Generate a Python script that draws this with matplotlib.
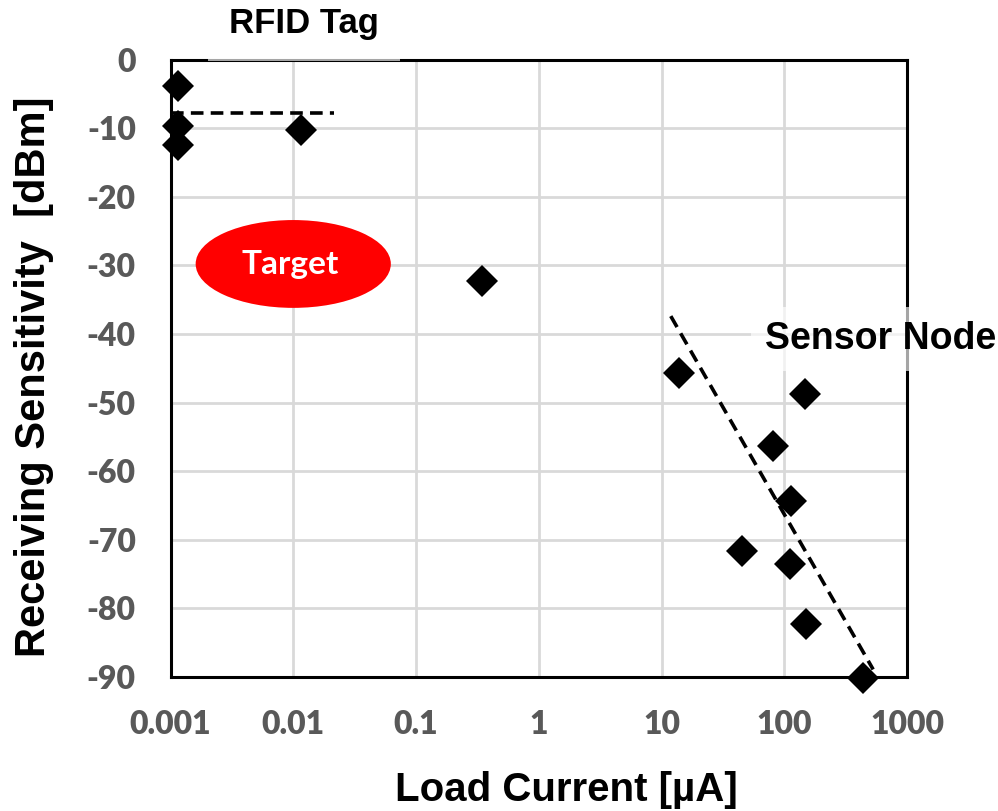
import numpy as np
import matplotlib
matplotlib.use("Agg")
import matplotlib.pyplot as plt
from matplotlib.patches import Ellipse

# measured sensitivity vs load current
rfid_current = [0.00116, 0.00116, 0.00116, 0.0116]
rfid_sens = [-3.8, -9.7, -12.4, -10.3]
mid_current = [0.344]
mid_sens = [-32.3]
node_current = [13.9, 147, 81, 113, 45.3, 111, 150, 434]
node_sens = [-45.7, -48.7, -56.4, -64.4, -71.7, -73.6, -82.3, -90.1]

# trend lines
rfid_fit_x = [0.001, 0.0216]
rfid_fit_y = [-7.8, -7.8]
node_fit_x = [11.9, 530]
node_fit_y = [-37.4, -88.9]

x_ticks = [0.001, 0.01, 0.1, 1, 10, 100, 1000]
x_tick_labels = ["0.001", "0.01", "0.1", "1", "10", "100", "1000"]
y_ticks = [0, -10, -20, -30, -40, -50, -60, -70, -80, -90]
y_tick_labels = ["0", "-10", "-20", "-30", "-40", "-50", "-60", "-70", "-80", "-90"]

# target region: centre (current, dBm), size (decades, dB)
target_center = (0.01, -29.8)
target_size = (1.59, 12.8)

W, H = 998, 811
fig = plt.figure(figsize=(W / 100, H / 100), dpi=100)
ax = fig.add_axes([170.5 / W, (H - 677) / H, 736.5 / W, 617.5 / H])

ax.set_xscale("log")
ax.set_xlim(0.001, 1000)
ax.set_ylim(-90, 0)
ax.set_xticks(x_ticks)
ax.set_xticklabels(x_tick_labels)
ax.minorticks_off()
ax.set_yticks(y_ticks)
ax.set_yticklabels(y_tick_labels)
ax.grid(True, color="#d9d9d9", lw=2)
ax.set_axisbelow(True)
ax.tick_params(length=0, labelsize=23, labelcolor="#595959")
ax.tick_params(axis="x", pad=24)
ax.tick_params(axis="y", pad=25)
for lbl in ax.get_xticklabels() + ax.get_yticklabels():
    lbl.set_fontfamily("Lato")
    lbl.set_fontweight("heavy")
for s in ax.spines.values():
    s.set_linewidth(2.2)
    s.set_color("black")

ax.plot(rfid_fit_x, rfid_fit_y, color="black", lw=2.6, ls=(0, (3.5, 2)),
        clip_on=False, zorder=3)
ax.plot(node_fit_x, node_fit_y, color="black", lw=2.6, ls=(0, (3.5, 2)),
        clip_on=False, zorder=3)
for xs, ys in [(rfid_current, rfid_sens), (mid_current, mid_sens),
               (node_current, node_sens)]:
    ax.plot(xs, ys, "D", ms=16.5, color="black", mew=0, clip_on=False, zorder=4)

# red target ellipse, placed in axes fractions from the data limits
lx0, lx1 = np.log10(ax.get_xlim())
y0, y1 = ax.get_ylim()
cx = (np.log10(target_center[0]) - lx0) / (lx1 - lx0)
cy = (target_center[1] - y0) / (y1 - y0)
ell = Ellipse((cx, cy), target_size[0] / (lx1 - lx0), target_size[1] / (y1 - y0),
              transform=ax.transAxes, facecolor="#ff0000", edgecolor="none",
              zorder=3)
ax.add_patch(ell)
ax.text(0.0095, -31.3, "Target", color="white", fontsize=24, fontweight="bold",
        family="Lato", ha="center", va="baseline", zorder=4)

fig.text(304 / W, 1 - 33.3 / H, "RFID Tag", fontsize=25, fontweight="bold",
         family="Liberation Sans", ha="center", va="baseline",
         bbox=dict(facecolor="white", alpha=0.65, edgecolor="none", pad=15))
fig.text(765 / W, 1 - 349 / H, "Sensor Node", fontsize=27, fontweight="bold",
         family="Liberation Sans", ha="left", va="baseline",
         bbox=dict(facecolor="white", alpha=0.65, edgecolor="none", pad=10))

fig.text(566 / W, 10 / H, "Load Current [\u00b5A]", fontsize=29,
         fontweight="bold", family="Liberation Sans", ha="center", va="baseline")
fig.text(45 / W, 1 - 376.5 / H, "Receiving Sensitivity  [dBm]", fontsize=30,
         fontweight="bold", family="Liberation Sans", rotation=90,
         rotation_mode="anchor", ha="center", va="baseline")

fig.savefig("out.png", dpi=100)
